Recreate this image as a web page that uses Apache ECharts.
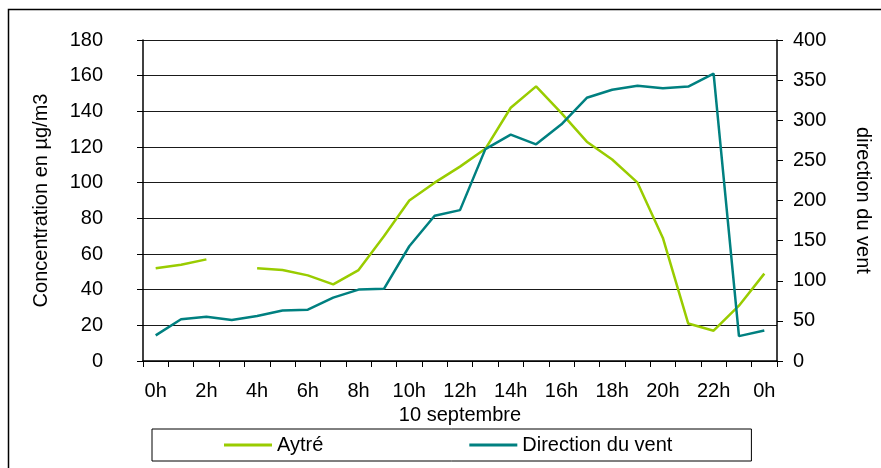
<!DOCTYPE html>
<html>
<head>
<meta charset="utf-8">
<script src="https://cdn.jsdelivr.net/npm/echarts@6/dist/echarts.min.js"></script>
<style>html,body{margin:0;padding:0;background:#fff}#c{width:881px;height:468px}</style>
</head>
<body>
<div id="c"></div>
<script>
const hours = ['0h','1h','2h','3h','4h','5h','6h','7h','8h','9h','10h','11h','12h','13h','14h','15h','16h','17h','18h','19h','20h','21h','22h','23h','0h'];
const aytre = [52, 54, 57, null, 52, 51, 48, 43, 51, 70, 90, 100, 109, 119, 142, 154, 139, 123, 113, 100, 69, 21, 17, 31, 49];
const directionVent = [32, 52, 55, 51, 56, 63, 64, 79, 89, 90, 143, 181, 188, 264, 282, 270, 295, 328, 338, 343, 340, 342, 358, 31, 38];
const leftTicks = {min: 0, max: 180, interval: 20};
const rightTicks = {min: 0, max: 400, interval: 50};
const xName = '10 septembre';
const leftName = 'Concentration en µg/m3';
const rightName = 'direction du vent';

const FONT = 'Liberation Sans, Arial, sans-serif';
const chart = echarts.init(document.getElementById('c'), null, {renderer: 'canvas'});
chart.setOption({
  animation: false,
  backgroundColor: '#fff',
  textStyle: {fontFamily: FONT},
  graphic: [{
    type: 'rect', left: 6, top: 7, shape: {width: 900, height: 500},
    style: {fill: 'none', stroke: '#000', lineWidth: 1.5}, silent: true, z: 100
  }],
  grid: {left: 143, right: 97, top: 40, bottom: 107, containLabel: false},
  legend: {
    left: 152, top: 429,
    padding: [6, 79, 6, 72],
    itemGap: 146,
    itemWidth: 48, itemHeight: 3,
    icon: 'rect',
    borderColor: '#000', borderWidth: 1, backgroundColor: '#fff',
    textStyle: {fontFamily: FONT, fontSize: 20, color: '#000'},
    data: ['Aytré', 'Direction du vent']
  },
  xAxis: {
    type: 'category', data: hours, boundaryGap: true,
    name: xName, nameLocation: 'middle', nameGap: 38,
    nameTextStyle: {fontFamily: FONT, fontSize: 20, color: '#000'},
    axisLine: {lineStyle: {color: '#000', width: 1.5}},
    axisTick: {show: true, interval: 0, length: 6, lineStyle: {color: '#000'}},
    axisLabel: {interval: 1, margin: 20, fontFamily: FONT, fontSize: 20, color: '#000'},
    splitLine: {show: false}
  },
  yAxis: [{
    type: 'value', position: 'left', min: leftTicks.min, max: leftTicks.max, interval: leftTicks.interval,
    name: leftName, nameLocation: 'middle', nameGap: 92, nameRotate: 90,
    nameTextStyle: {fontFamily: FONT, fontSize: 20, color: '#000'},
    axisLine: {show: true, lineStyle: {color: '#000', width: 1.5}},
    axisTick: {show: true, length: 6, lineStyle: {color: '#000'}},
    axisLabel: {margin: 40, fontFamily: FONT, fontSize: 20, color: '#000'},
    splitLine: {show: true, lineStyle: {color: '#1a1a1a', width: 1}}
  }, {
    type: 'value', position: 'right', min: rightTicks.min, max: rightTicks.max, interval: rightTicks.interval,
    name: rightName, nameLocation: 'middle', nameGap: 76, nameRotate: -90,
    nameTextStyle: {fontFamily: FONT, fontSize: 20, color: '#000'},
    axisLine: {show: true, lineStyle: {color: '#000', width: 1.5}},
    axisTick: {show: true, length: 6, lineStyle: {color: '#000'}},
    axisLabel: {margin: 16, fontFamily: FONT, fontSize: 20, color: '#000'},
    splitLine: {show: false}
  }],
  series: [{
    name: 'Aytré', type: 'line', yAxisIndex: 0, data: aytre,
    showSymbol: false, symbol: 'none', connectNulls: false,
    lineStyle: {color: '#99cc00', width: 2.5}, itemStyle: {color: '#99cc00'}
  }, {
    name: 'Direction du vent', type: 'line', yAxisIndex: 1, data: directionVent,
    showSymbol: false, symbol: 'none',
    lineStyle: {color: '#008080', width: 2.5}, itemStyle: {color: '#008080'}
  }]
});
</script>
</body>
</html>
